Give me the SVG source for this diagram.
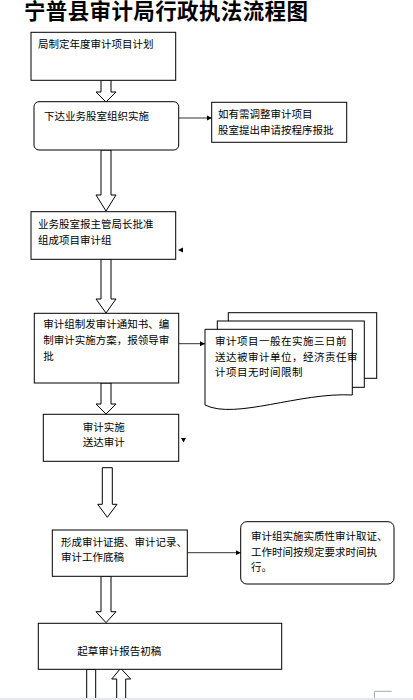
<svg xmlns="http://www.w3.org/2000/svg" width="413" height="700" viewBox="0 0 413 700">
<style>
.box{fill:#fff;stroke:#000;stroke-width:1}
.t{font-family:"Noto Sans CJK SC","Noto Sans CJK JP",sans-serif;font-size:10.5px;fill:#000}
.title{font-family:"Noto Sans CJK SC","Noto Sans CJK JP",sans-serif;font-size:21.5px;font-weight:bold;fill:#000}
.blk{fill:#fff;stroke:#000;stroke-width:1}
.ln{stroke:#333;stroke-width:1;fill:none;marker-end:url(#ah)}
.tri{fill:#000}
</style>
<defs>
<marker id="ah" markerWidth="6" markerHeight="6" refX="5" refY="3" orient="auto" markerUnits="userSpaceOnUse">
<path d="M0,0.5 L5,3 L0,5.5 Z" fill="#000"/>
</marker>
</defs>
<rect x="0" y="0" width="413" height="700" fill="#fff"/>
<text class="title" x="24" y="19" textLength="284" lengthAdjust="spacing">宁普县审计局行政执法流程图</text>

<g id="connectors">
<path class="blk" d="M101,80 L111,80 L111,92 L116,92 L106,102 L96,92 L101,92 Z"/>
<path class="blk" d="M101,150 L111,150 L111,195 L116,195 L106,211 L96,195 L101,195 Z"/>
<path class="blk" d="M101,259 L111,259 L111,299 L116,299 L106,313 L96,299 L101,299 Z"/>
<path class="blk" d="M101,383 L111,383 L111,404 L116,404 L106,414 L96,404 L101,404 Z"/>
<path class="blk" d="M102.3,467.7 L112.3,467.7 L112.3,504.3 L117,504.3 L107.3,517.3 L97.7,504.3 L102.3,504.3 Z"/>
<path class="blk" d="M101,576 L111,576 L111,611.7 L116,611.7 L106,622.7 L96,611.7 L101,611.7 Z"/>
<path class="blk" d="M86.7,702 L86.7,669.3 L95.7,669.3 L95.7,702"/>
<path class="blk" d="M116.7,702 L116.7,679 L111.7,679 L120.7,668.3 L130.7,679 L125.7,679 L125.7,702"/>
<line class="ln" x1="179" y1="118" x2="212" y2="118"/>
<line class="ln" x1="178.7" y1="343.7" x2="205" y2="343.7"/>
<line class="ln" x1="187.3" y1="552.7" x2="240.7" y2="552.7"/>
<polygon class="tri" points="178,250 183,247.5 183,252.5"/>
<polygon class="tri" points="181,438 186,438 183.5,442.5"/>
</g>

<g id="n1">
<rect class="box" x="31" y="32.3" width="144.7" height="48"/>
<text class="t" x="38" y="48">局制定年度审计项目计划</text>
</g>
<g id="n2">
<rect class="box" x="34" y="101.7" width="144.7" height="48.3" rx="5"/>
<text class="t" x="44" y="119.5">下达业务股室组织实施</text>
</g>
<g id="n3">
<rect class="box" x="211.7" y="102.3" width="135" height="40"/>
<text class="t" x="218" y="118">如有需调整审计项目</text>
<text class="t" x="218" y="133.5">股室提出申请按程序报批</text>
</g>
<g id="n4">
<rect class="box" x="31" y="211.7" width="144.7" height="47.6"/>
<text class="t" x="38" y="228">业务股室报主管局长批准</text>
<text class="t" x="38" y="244">组成项目审计组</text>
</g>
<g id="n5">
<rect class="box" x="34.3" y="313.3" width="144.4" height="69.7"/>
<text class="t" x="43.3" y="328">审计组制发审计通知书、编</text>
<text class="t" x="43.3" y="344">制审计实施方案，报领导审</text>
<text class="t" x="43.3" y="359.7">批</text>
</g>
<g id="n6">
<rect class="box" x="228.3" y="312.7" width="148.4" height="65.6"/>
<rect class="box" x="217.3" y="321" width="147" height="66.3"/>
<path class="box" d="M205,329.3 L352.3,329.3 L352.3,395 C300,392 235,420 205,405 Z"/>
<text class="t" x="215" y="344.7" letter-spacing="0.5">审计项目一般在实施三日前</text>
<text class="t" x="215" y="360.7" letter-spacing="0.5">送达被审计单位，经济责任审</text>
<text class="t" x="215" y="376.3" letter-spacing="0.5">计项目无时间限制</text>
</g>
<g id="n7">
<rect class="box" x="43.3" y="414.3" width="135.4" height="47"/>
<text class="t" x="82.7" y="430.7">审计实施</text>
<text class="t" x="82.7" y="445.7">送达审计</text>
</g>
<g id="n8">
<rect class="box" x="52.3" y="530" width="135" height="46.3"/>
<text class="t" x="61" y="545.7">形成审计证据、审计记录、</text>
<text class="t" x="61" y="561.3">审计工作底稿</text>
</g>
<g id="n9">
<rect class="box" x="240.7" y="521.7" width="153.3" height="62.3" rx="6"/>
<text class="t" x="251" y="539.7">审计组实施实质性审计取证、</text>
<text class="t" x="251" y="555.7">工作时间按规定要求时间执</text>
<text class="t" x="251" y="571.3">行。</text>
</g>
<g id="n10">
<rect class="box" x="38.3" y="623.3" width="243.4" height="46"/>
<text class="t" x="77.3" y="654.7">起草审计报告初稿</text>
</g>
<path d="M374.5,698 L374.5,691.3 L391.7,691.3" fill="none" stroke="#aaa" stroke-width="1"/>
<rect x="0" y="698" width="413" height="2" fill="#e6e6ee"/>
</svg>
